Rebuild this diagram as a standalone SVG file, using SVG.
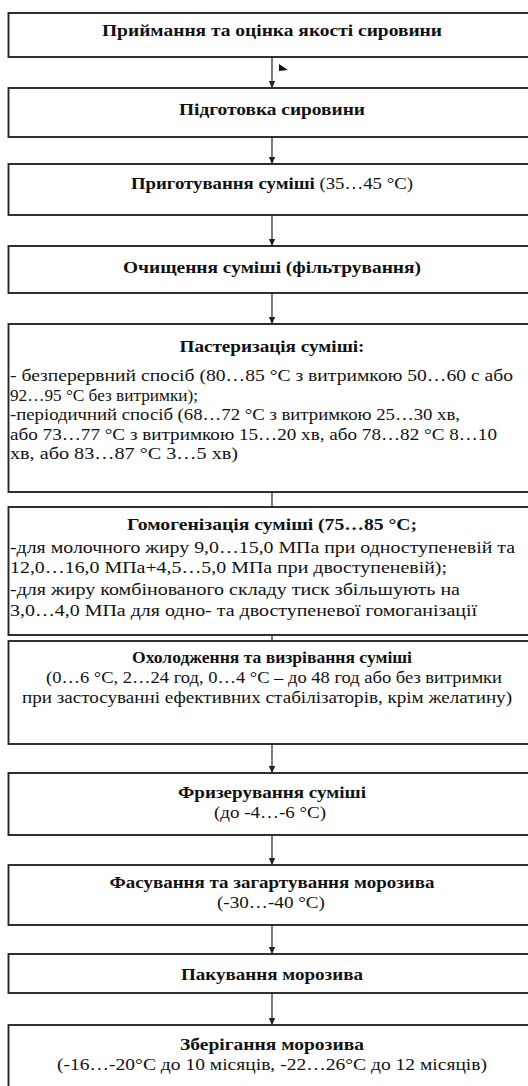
<svg xmlns="http://www.w3.org/2000/svg" width="528" height="1086" viewBox="0 0 528 1086">
  <style>
    .box { fill: #fff; stroke: #262626; stroke-width: 1.9; }
    .t { font-family: "Liberation Serif", "Times New Roman", serif; font-size: 16px; fill: #111; }
    .b { font-weight: bold; }
    .c { text-anchor: middle; }
    .link { stroke: #333; stroke-width: 1.3; fill: none; }
    .tri { fill: #111; }
  </style>
  <defs>
    <marker id="arrow" markerUnits="userSpaceOnUse" markerWidth="8" markerHeight="8" refX="7" refY="4" orient="auto">
      <path d="M0,0.8 L7,4 L0,7.2 Z" fill="#222"/>
    </marker>
  </defs>
  <rect width="528" height="1086" fill="#fff"/>

  <g id="connectors">
    <line class="link" x1="272" y1="57" x2="272" y2="88" marker-end="url(#arrow)"/>
    <line class="link" x1="272" y1="137" x2="272" y2="164" marker-end="url(#arrow)"/>
    <line class="link" x1="272" y1="215" x2="272" y2="246" marker-end="url(#arrow)"/>
    <line class="link" x1="272" y1="293" x2="272" y2="324" marker-end="url(#arrow)"/>
    <line class="link" x1="272" y1="492" x2="272" y2="516" marker-end="url(#arrow)"/>
    <line class="link" x1="272" y1="635" x2="272" y2="641"/>
    <line class="link" x1="272" y1="744" x2="272" y2="773" marker-end="url(#arrow)"/>
    <line class="link" x1="272" y1="835" x2="272" y2="865" marker-end="url(#arrow)"/>
    <line class="link" x1="272" y1="925" x2="272" y2="954" marker-end="url(#arrow)"/>
    <line class="link" x1="272" y1="993" x2="272" y2="1025" marker-end="url(#arrow)"/>
    <polygon class="tri" points="279,64 288,70 279,71"/>
    <polygon class="tri" points="438,215 446,215 442,208"/>
  </g>

  <g id="n1">
    <rect class="box" x="8.5" y="13" width="540" height="44"/>
    <text class="t b c" x="272" y="36" textLength="340" lengthAdjust="spacingAndGlyphs">Приймання та оцінка якості сировини</text>
  </g>
  <g id="n2">
    <rect class="box" x="8.5" y="88" width="540" height="49"/>
    <text class="t b c" x="272" y="115" textLength="186" lengthAdjust="spacingAndGlyphs">Підготовка сировини</text>
  </g>
  <g id="n3">
    <rect class="box" x="8.5" y="164" width="540" height="51"/>
    <text class="t c" x="272" y="189" textLength="282" lengthAdjust="spacingAndGlyphs"><tspan class="b">Приготування суміші</tspan> (35…45 °С)</text>
  </g>
  <g id="n4">
    <rect class="box" x="8.5" y="246" width="540" height="47"/>
    <text class="t b c" x="272" y="273" textLength="298" lengthAdjust="spacingAndGlyphs">Очищення суміші (фільтрування)</text>
  </g>
  <g id="n5">
    <rect class="box" x="8.5" y="324" width="540" height="168"/>
    <text class="t b c" x="272" y="352" textLength="185" lengthAdjust="spacingAndGlyphs">Пастеризація суміші:</text>
    <text class="t" x="10" y="381" textLength="503" lengthAdjust="spacingAndGlyphs">- безперервний спосіб (80…85 °С з витримкою 50…60 с або</text>
    <text class="t" x="10" y="400.5" textLength="188" lengthAdjust="spacingAndGlyphs">92…95 °С без витримки);</text>
    <text class="t" x="10" y="420" textLength="450" lengthAdjust="spacingAndGlyphs">-періодичний спосіб (68…72 °С з витримкою 25…30 хв,</text>
    <text class="t" x="10" y="439.5" textLength="487" lengthAdjust="spacingAndGlyphs">або 73…77 °С з витримкою 15…20 хв, або 78…82 °С 8…10</text>
    <text class="t" x="10" y="459" textLength="228" lengthAdjust="spacingAndGlyphs">хв, або 83…87 °С 3…5 хв)</text>
  </g>
  <g id="n6">
    <rect class="box" x="8.5" y="507" width="540" height="128"/>
    <text class="t b c" x="272" y="529.5" textLength="290" lengthAdjust="spacingAndGlyphs">Гомогенізація суміші (75…85 °С;</text>
    <text class="t" x="10" y="553" textLength="505" lengthAdjust="spacingAndGlyphs">-для молочного жиру 9,0…15,0 МПа при одноступеневій та</text>
    <text class="t" x="10" y="573" textLength="437" lengthAdjust="spacingAndGlyphs">12,0…16,0 МПа+4,5…5,0 МПа при двоступеневій);</text>
    <text class="t" x="10" y="594.5" textLength="450" lengthAdjust="spacingAndGlyphs">-для жиру комбінованого складу тиск збільшують на</text>
    <text class="t" x="10" y="616" textLength="467" lengthAdjust="spacingAndGlyphs">3,0…4,0 МПа для одно- та двоступеневої гомоганізації</text>
  </g>
  <g id="n7">
    <rect class="box" x="8.5" y="641" width="540" height="103"/>
    <text class="t b c" x="272" y="662.5" textLength="280" lengthAdjust="spacingAndGlyphs">Охолодження та визрівання суміші</text>
    <text class="t c" x="274" y="682.5" textLength="456" lengthAdjust="spacingAndGlyphs">(0…6 °С, 2…24 год, 0…4 °С – до 48 год або без витримки</text>
    <text class="t c" x="267" y="702.5" textLength="490" lengthAdjust="spacingAndGlyphs">при застосуванні ефективних стабілізаторів, крім желатину)</text>
  </g>
  <g id="n8">
    <rect class="box" x="8.5" y="773" width="540" height="62"/>
    <text class="t b c" x="272" y="797.5" textLength="188" lengthAdjust="spacingAndGlyphs">Фризерування суміші</text>
    <text class="t c" x="270" y="817.5" textLength="112" lengthAdjust="spacingAndGlyphs">(до -4…-6 °С)</text>
  </g>
  <g id="n9">
    <rect class="box" x="8.5" y="865" width="540" height="60"/>
    <text class="t b c" x="272" y="887.5" textLength="325" lengthAdjust="spacingAndGlyphs">Фасування та загартування морозива</text>
    <text class="t c" x="271" y="907.5" textLength="108" lengthAdjust="spacingAndGlyphs">(-30…-40 °С)</text>
  </g>
  <g id="n10">
    <rect class="box" x="8.5" y="954" width="540" height="39"/>
    <text class="t b c" x="272" y="979.5" textLength="182" lengthAdjust="spacingAndGlyphs">Пакування морозива</text>
  </g>
  <g id="n11">
    <rect class="box" x="8.5" y="1025" width="540" height="80"/>
    <text class="t b c" x="272" y="1049.5" textLength="184" lengthAdjust="spacingAndGlyphs">Зберігання морозива</text>
    <text class="t c" x="272" y="1069.5" textLength="430" lengthAdjust="spacingAndGlyphs">(-16…-20°С до 10 місяців, -22…26°С до 12  місяців)</text>
  </g>
</svg>
